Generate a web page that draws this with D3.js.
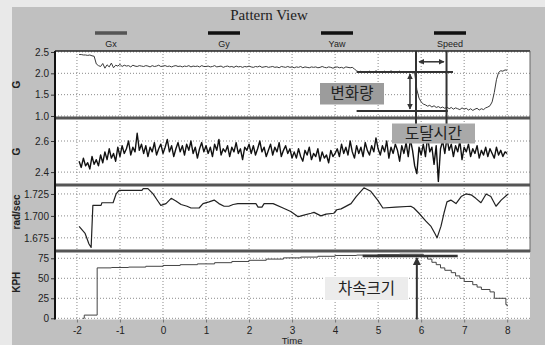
<!DOCTYPE html>
<html>
<head>
<meta charset="utf-8">
<script src="https://cdn.jsdelivr.net/npm/d3@7"></script>
<style>
  html, body { margin: 0; padding: 0; background: #e9e9e9; }
  svg { display: block; }
  text { font-family: "Liberation Sans", Arial, sans-serif; fill: #222; }
  .kr { font-family: "Noto Sans CJK KR", sans-serif; }
</style>
</head>
<body>
<script>
// ---- data ----
var legendNames = ["Gx", "Gy", "Yaw", "Speed"];
var timeTicks = [-2, -1, 0, 1, 2, 3, 4, 5, 6, 7, 8];
var gxTicks = [1.0, 1.5, 2.0, 2.5];
var gyTicks = [2.4, 2.6];
var yawTicks = [1.675, 1.700, 1.725];
var speedTicks = [0, 25, 50, 75];

// Gx and Gy are sampled every 0.05 s starting at t = -1.95
var sampleStart = -1.95, sampleStep = 0.05;
var gxValues = [
  2.44,2.44,2.43,2.43,2.42,2.43,2.41,2.40,2.22,2.18,
  2.16,2.23,2.12,2.20,2.15,2.24,2.13,2.19,2.17,2.21,
  2.16,2.19,2.17,2.18,2.15,2.19,2.17,2.16,2.18,2.17,
  2.16,2.18,2.17,2.15,2.18,2.16,2.17,2.19,2.16,2.17,
  2.18,2.16,2.17,2.15,2.17,2.18,2.16,2.17,2.15,2.17,
  2.16,2.18,2.15,2.17,2.16,2.17,2.15,2.18,2.16,2.16,
  2.17,2.15,2.16,2.18,2.15,2.16,2.17,2.14,2.16,2.17,
  2.15,2.16,2.14,2.17,2.15,2.16,2.14,2.16,2.15,2.17,
  2.15,2.14,2.16,2.15,2.17,2.14,2.15,2.16,2.14,2.15,
  2.16,2.14,2.15,2.13,2.16,2.15,2.14,2.16,2.14,2.15,
  2.13,2.15,2.14,2.16,2.13,2.15,2.14,2.13,2.15,2.14,
  2.15,2.13,2.14,2.16,2.14,2.13,2.15,2.14,2.12,2.14,
  2.15,2.13,2.14,2.12,2.15,2.14,2.13,2.14,2.10,2.06,
  2.03,2.05,2.02,2.04,2.01,2.05,2.03,2.02,2.06,2.03,
  2.04,2.01,2.05,2.03,2.02,2.06,2.02,2.04,2.03,2.05,
  2.02,2.04,2.01,2.03,2.04,2.02,2.00,1.62,1.42,1.33,
  1.28,1.26,1.23,1.25,1.21,1.24,1.20,1.22,1.19,1.21,
  1.18,1.21,1.17,1.20,1.16,1.19,1.17,1.15,1.19,1.16,
  1.18,1.14,1.17,1.13,1.16,1.18,1.14,1.17,1.15,1.19,
  1.21,1.24,1.33,1.55,1.85,2.02,2.06,2.05,2.08,2.07
];
var gyValues = [
  2.47,2.43,2.49,2.44,2.46,2.42,2.50,2.45,2.48,2.44,
  2.51,2.46,2.53,2.48,2.55,2.49,2.52,2.47,2.56,2.50,
  2.57,2.52,2.55,2.60,2.51,2.56,2.53,2.65,2.54,2.58,
  2.52,2.57,2.50,2.56,2.53,2.59,2.51,2.55,2.58,2.52,
  2.56,2.61,2.53,2.57,2.50,2.55,2.59,2.53,2.57,2.51,
  2.58,2.54,2.60,2.52,2.56,2.49,2.55,2.59,2.53,2.57,
  2.52,2.56,2.50,2.58,2.54,2.61,2.51,2.55,2.53,2.57,
  2.50,2.56,2.53,2.59,2.52,2.55,2.48,2.56,2.54,2.58,
  2.52,2.57,2.51,2.55,2.60,2.53,2.56,2.50,2.54,2.58,
  2.51,2.56,2.53,2.59,2.50,2.54,2.57,2.52,2.55,2.49,
  2.53,2.49,2.55,2.50,2.47,2.54,2.51,2.56,2.48,2.52,
  2.50,2.55,2.47,2.53,2.49,2.51,2.46,2.54,2.50,2.52,
  2.55,2.50,2.58,2.52,2.56,2.51,2.60,2.53,2.49,2.57,
  2.52,2.56,2.50,2.59,2.54,2.51,2.57,2.53,2.62,2.55,
  2.51,2.57,2.53,2.60,2.49,2.56,2.52,2.58,2.54,2.47,
  2.57,2.52,2.59,2.50,2.61,2.54,2.44,2.39,2.56,2.51,
  2.58,2.50,2.63,2.53,2.56,2.45,2.57,2.34,2.55,2.60,
  2.52,2.62,2.54,2.58,2.50,2.57,2.53,2.60,2.48,2.56,
  2.53,2.58,2.50,2.55,2.52,2.57,2.49,2.54,2.51,2.56,
  2.50,2.55,2.52,2.49,2.56,2.51,2.54,2.50,2.53,2.52
];

var yawTimes = [-1.95,-1.81,-1.72,-1.67,-1.63,-1.44,-1.42,-1.16,-1.09,-1.02,-0.49,-0.46,-0.35,-0.23,-0.12,-0.05,
  0.07,0.19,0.30,0.42,0.56,0.65,0.84,0.93,1.07,1.19,1.30,1.42,1.53,1.63,1.74,2.16,2.21,2.30,2.35,2.56,2.79,2.97,
  3.14,3.21,3.44,3.51,3.67,3.79,3.97,4.04,4.14,4.37,4.49,4.67,4.83,4.99,5.11,5.41,5.76,5.83,5.95,6.11,6.23,6.32,
  6.37,6.46,6.53,6.60,6.69,6.81,6.93,7.04,7.16,7.27,7.39,7.51,7.62,7.74,7.86,8.02];
var yawValues = [1.688,1.680,1.668,1.664,1.712,1.712,1.715,1.715,1.725,1.729,1.729,1.731,1.731,1.725,1.717,1.712,
  1.714,1.720,1.717,1.713,1.711,1.709,1.709,1.714,1.716,1.718,1.714,1.711,1.711,1.713,1.714,1.714,1.710,1.710,1.714,1.714,1.709,1.705,
  1.699,1.700,1.703,1.704,1.700,1.702,1.703,1.707,1.708,1.714,1.722,1.732,1.728,1.718,1.709,1.710,1.711,1.709,1.703,1.694,1.688,1.680,
  1.675,1.688,1.703,1.716,1.718,1.714,1.722,1.725,1.724,1.720,1.715,1.725,1.722,1.711,1.718,1.725];

var speedTimes = [-1.86,-1.83,-1.53,-1.2,-0.8,-0.4,0,0.4,0.8,1.2,1.6,2.0,2.4,2.8,3.2,3.6,4.0,4.5,5.0,5.5,5.95,
  6.05,6.15,6.25,6.35,6.45,6.55,6.7,6.8,6.9,7.0,7.2,7.3,7.4,7.6,7.7,7.97,8.0];
var speedValues = [0,4,63,63.5,64,65,66,67,68,69.5,71,72.5,74,75.5,76.5,77.5,78.5,79,79.5,80,80,
  77,74,70,67,63,60,57,53,50,46,42,39,36,33,25,17,15];

// ---- layout ----
var width = 545, height = 345;
var plotLeft = 55, plotRight = 530, plotTop = 51, plotBottom = 319.5;

var svg = d3.select("body").append("svg")
  .attr("width", width).attr("height", height);

svg.append("rect").attr("x", 12).attr("y", 7).attr("width", width - 12).attr("height", height - 7)
  .attr("fill", "#c0c0c0");
svg.append("rect").attr("x", plotLeft).attr("y", plotTop)
  .attr("width", plotRight - plotLeft).attr("height", plotBottom - plotTop)
  .attr("fill", "#ffffff");

var x = d3.scaleLinear().domain([-2.51, 8.53]).range([plotLeft, plotRight]);

var panels = [
  {name: "gx", label: "G", ticks: gxTicks, fmt: d3.format(".1f"), y: d3.scaleLinear().domain([0.953, 2.523]).range([118, 51])},
  {name: "gy", label: "G", ticks: gyTicks, fmt: d3.format(".1f"), y: d3.scaleLinear().domain([2.317, 2.748]).range([185, 118])},
  {name: "yaw", label: "rad/sec", ticks: yawTicks, fmt: d3.format(".3f"), y: d3.scaleLinear().domain([1.6600, 1.7352]).range([251, 185])},
  {name: "speed", label: "KPH", ticks: speedTicks, fmt: d3.format("d"), y: d3.scaleLinear().domain([-1.5, 84.1]).range([319.5, 251])}
];

var defs = svg.append("defs");
panels.forEach(function(p) {
  var r = p.y.range();
  defs.append("clipPath").attr("id", "clip-" + p.name)
    .append("rect").attr("x", plotLeft).attr("y", r[1]).attr("width", plotRight - plotLeft).attr("height", r[0] - r[1]);
});
["up", "down", "left", "right"].forEach(function(dir) {
  var m = defs.append("marker").attr("id", "arrow-" + dir)
    .attr("viewBox", "0 0 10 10").attr("refX", 9).attr("refY", 5)
    .attr("markerWidth", 4).attr("markerHeight", 4).attr("orient", "auto-start-reverse");
  m.append("path").attr("d", "M0,0 L10,5 L0,10 z").attr("fill", "#333");
});

// grid + y axes
panels.forEach(function(p) {
  var r = p.y.range();
  var g = svg.append("g");
  g.selectAll(".vg").data(timeTicks).enter().append("line")
    .attr("x1", function(d) { return x(d); }).attr("x2", function(d) { return x(d); })
    .attr("y1", r[1]).attr("y2", r[0])
    .attr("stroke", "#8a8a8a").attr("stroke-width", 1).attr("stroke-dasharray", "1,2");
  g.selectAll(".hg").data(p.ticks).enter().append("line")
    .attr("x1", plotLeft).attr("x2", plotRight)
    .attr("y1", function(d) { return p.y(d); }).attr("y2", function(d) { return p.y(d); })
    .attr("stroke", "#8a8a8a").attr("stroke-width", 1).attr("stroke-dasharray", "1,2");

  var ax = svg.append("g").attr("transform", "translate(" + plotLeft + ",0)")
    .call(d3.axisLeft(p.y).tickValues(p.ticks).tickFormat(p.fmt).tickSize(4).tickPadding(2));
  ax.select(".domain").remove();
  ax.selectAll("line").attr("stroke", "#333");
  ax.selectAll("text").style("font-size", "10px").attr("fill", "#222")
    .style("font-family", "Liberation Sans, Arial, sans-serif");

  svg.append("text")
    .attr("transform", "translate(20," + ((r[0] + r[1]) / 2 - (p.name == "yaw" ? 6 : 0) - (p.name == "speed" ? 3 : 0)) + ") rotate(-90)")
    .attr("text-anchor", "middle")
    .style("font-size", "10px").style("font-weight", "bold")
    .text(p.label);
});

// data lines
function sampled(values) {
  return values.map(function(v, i) { return [sampleStart + i * sampleStep, v]; });
}
function paired(ts, vs) {
  return ts.map(function(t, i) { return [t, vs[i]]; });
}
var series = [
  {panel: panels[0], data: sampled(gxValues), color: "#3a3a3a", w: 1, curve: d3.curveLinear},
  {panel: panels[1], data: sampled(gyValues), color: "#111", w: 1.4, curve: d3.curveLinear},
  {panel: panels[2], data: paired(yawTimes, yawValues), color: "#222", w: 1.2, curve: d3.curveLinear},
  {panel: panels[3], data: paired(speedTimes, speedValues), color: "#444", w: 1, curve: d3.curveStepAfter}
];
series.forEach(function(s) {
  var line = d3.line().curve(s.curve)
    .x(function(d) { return x(d[0]); })
    .y(function(d) { return s.panel.y(d[1]); });
  svg.append("path").datum(s.data)
    .attr("clip-path", "url(#clip-" + s.panel.name + ")")
    .attr("d", line).attr("fill", "none")
    .attr("stroke", s.color).attr("stroke-width", s.w).attr("stroke-linejoin", "round");
});

// panel separators and frame
svg.append("line").attr("x1", plotLeft).attr("x2", plotRight).attr("y1", plotTop).attr("y2", plotTop)
  .attr("stroke", "#222").attr("stroke-width", 1.5);
svg.append("line").attr("x1", plotRight).attr("x2", plotRight).attr("y1", plotTop).attr("y2", 252)
  .attr("stroke", "#666").attr("stroke-width", 1);
[118, 185, 251].forEach(function(yy) {
  svg.append("line").attr("x1", plotLeft).attr("x2", plotRight).attr("y1", yy).attr("y2", yy)
    .attr("stroke", "#555").attr("stroke-width", 3);
});
svg.append("line").attr("x1", plotLeft).attr("x2", plotLeft).attr("y1", plotTop).attr("y2", plotBottom)
  .attr("stroke", "#111").attr("stroke-width", 2);

// x axis
var xa = svg.append("g").attr("transform", "translate(0," + plotBottom + ")")
  .call(d3.axisBottom(x).tickValues(timeTicks).tickFormat(function(d) { return String(d); })
    .tickSize(3).tickPadding(4));
xa.select(".domain").remove();
xa.selectAll("line").attr("stroke", "#777");
xa.selectAll("text").style("font-size", "10px").attr("fill", "#222")
  .style("font-family", "Liberation Sans, Arial, sans-serif");
svg.append("text").attr("x", x(3)).attr("y", 344).attr("text-anchor", "middle")
  .style("font-size", "9.5px").text("Time");

// title and legend
svg.append("text").attr("x", 269).attr("y", 20).attr("text-anchor", "middle")
  .style("font-family", "Liberation Serif, Times New Roman, serif").style("font-size", "15px")
  .text("Pattern View");
var lg = svg.selectAll(".legend").data(legendNames).enter().append("g")
  .attr("transform", function(d, i) { return "translate(" + (111 + i * 113) + ",0)"; });
lg.append("line").attr("x1", -16).attr("x2", 16).attr("y1", 33).attr("y2", 33)
  .attr("stroke", function(d, i) { return i == 0 ? "#555" : "#111"; }).attr("stroke-width", 3.5);
lg.append("text").attr("y", 47).attr("text-anchor", "middle").style("font-size", "9px")
  .text(function(d) { return d; });

// annotations
var pg = panels[0].y, ps = panels[3].y;
var ann = svg.append("g").attr("stroke", "#333").attr("stroke-width", 2);
ann.append("line").attr("x1", x(4.5)).attr("x2", x(6.74)).attr("y1", pg(2.03)).attr("y2", pg(2.03));
ann.append("line").attr("x1", x(4.5)).attr("x2", x(6.62)).attr("y1", pg(1.117)).attr("y2", pg(1.117));
ann.append("line").attr("x1", x(5.74)).attr("x2", x(5.74)).attr("y1", pg(2.03) + 2).attr("y2", pg(1.117) - 2)
  .attr("stroke-width", 1.5).attr("marker-start", "url(#arrow-up)").attr("marker-end", "url(#arrow-down)");
ann.append("line").attr("x1", x(5.88)).attr("x2", x(5.88)).attr("y1", plotTop).attr("y2", 124);
ann.append("line").attr("x1", x(6.59)).attr("x2", x(6.59)).attr("y1", plotTop).attr("y2", 124);
ann.append("line").attr("x1", x(5.95)).attr("x2", x(6.53)).attr("y1", pg(2.27)).attr("y2", pg(2.27))
  .attr("stroke-width", 1.5).attr("marker-start", "url(#arrow-left)").attr("marker-end", "url(#arrow-right)");
ann.append("line").attr("x1", x(4.64)).attr("x2", x(6.85)).attr("y1", ps(78)).attr("y2", ps(78))
  .attr("stroke-width", 2.5);
ann.append("line").attr("x1", x(5.9)).attr("x2", x(5.9)).attr("y1", plotBottom).attr("y2", ps(78) + 2)
  .attr("stroke-width", 2).attr("marker-end", "url(#arrow-up)");

function label(x0, y0, w, h, fill, txt) {
  svg.append("rect").attr("x", x0).attr("y", y0).attr("width", w).attr("height", h).attr("fill", fill);
  svg.append("text").attr("class", "kr").attr("x", x0 + w / 2).attr("y", y0 + h / 2 + 5.5)
    .attr("text-anchor", "middle").style("font-size", "15.5px").attr("fill", "#2a2a2a").text(txt);
}
label(320, 83, 64, 21.5, "#9c9c9c", "변화량");
label(392, 123.5, 83, 20, "#a9a9a9", "도달시간");
label(325, 277, 83, 23, "#ececec", "차속크기");
</script>
</body>
</html>
